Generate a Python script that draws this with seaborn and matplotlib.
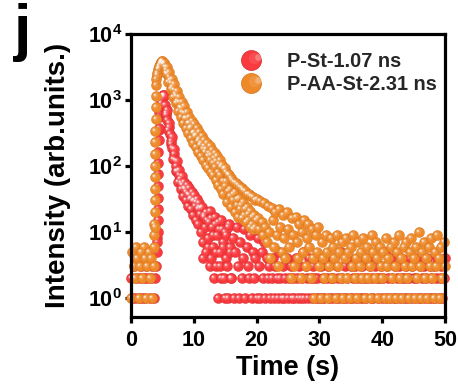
import numpy as np
import pandas as pd
import matplotlib
matplotlib.use("Agg")
import matplotlib.pyplot as plt
import seaborn as sns
from matplotlib.path import Path
from matplotlib.lines import Line2D
from matplotlib.legend_handler import HandlerTuple
from matplotlib.ticker import FixedLocator, FuncFormatter, NullLocator

# ---------------- data ----------------
series_names = ["P-St-1.07 ns", "P-AA-St-2.31 ns"]
time_step = 0.2  # channel spacing of the main grid (s), grid runs 0 .. 50

red_counts = [
    2, 1, 3, 1, 2, 4, 1, 2, 3, 1, 2, 1, 3, 2, 4, 1, 2, 3, 1, 2, 3,
    8, 350, 800, 1000, 1150, 1150, 850, 640, 500, 390, 310, 240, 190, 150, 125, 100, 85, 72, 64, 56,
    52, 46, 44, 40, 37, 36, 32, 33, 29, 30, 25, 28, 22, 24,
    19, 23, 4, 17, 12, 20, 6, 14, 3, 16, 9, 2, 13, 5, 1, 11, 3, 15, 7, 2,
    10, 4, 1, 13, 6, 2, 8, 1, 5, 12, 3, 1, 7, 2, 4, 11, 1, 6, 3, 2,
    9, 1, 5, 2, 4, 1, 8, 3, 1, 5, 2, 7, 1, 4, 2, 3,
    1, 2, 4, 1, 3, 2, 1, 5, 2, 1,
    3, 1, 2, 4, 1, 2, 3, 1, 2, 1,
    4, 2, 1, 3, 1, 2, 5, 1, 3, 2,
    1, 4, 2, 1, 3, 2, 1, 2, 4, 1,
    3, 1, 2, 1, 4, 2, 3, 1, 2, 1,
    2, 4, 1, 3, 2, 1, 5, 2, 1, 3,
    1, 2, 4, 1, 3, 1, 2, 3, 1, 2,
    4, 1, 2, 3, 1, 2, 1, 4, 2, 3,
    1, 2, 1, 3, 4, 2, 1, 2, 3, 1,
    2, 5, 1, 3, 2, 1, 4, 2, 1, 3,
    1, 2, 3, 1, 4, 2, 1, 2, 3, 1,
    2, 4, 1, 3, 2, 1, 2, 4, 1, 3,
    1, 2, 3, 1, 2, 4, 1, 3, 2, 1,
    3, 1, 2, 4, 1, 2, 3, 1, 2, 4,
]

orange_counts = [
    1, 5, 3, 2, 6, 4, 1, 3, 5, 2, 6, 4, 1, 3, 5, 2, 4, 1, 3,
    12, 2100, 2600, 3100, 3500, 3800, 3950,
    3600, 3150, 2850, 2480, 2260, 1980, 1800, 1560, 1430, 1240,
    1140, 980, 920, 790, 760, 660, 640, 540, 530, 450,
    450, 380, 390, 320, 330, 280, 290, 240, 255, 210,
    225, 180, 200, 160, 178, 140, 158, 125, 145, 110,
    132, 95, 120, 82, 108, 72, 98, 60, 90,
    50, 82, 42, 72, 35, 65, 30, 58, 40, 26,
    52, 33, 22, 46, 28, 18, 41, 24, 15, 37,
    21, 13, 34, 18, 12, 31, 16, 11, 29, 14,
    9, 27, 12, 7, 25, 10, 4, 23, 15, 6,
    20, 9, 3, 22, 12, 5, 18, 8, 4, 20,
    11, 6, 2, 16, 9, 3, 17, 7, 4, 13,
    2, 10, 5, 15, 3, 8, 13, 6, 2, 11,
    4, 1, 9, 5, 12,
    3, 1, 7, 4, 2, 9, 5, 1, 3, 8,
    2, 6, 4, 1, 9, 3, 5, 2, 7, 1,
    4, 8, 2, 5, 1, 6, 3, 9, 2, 4,
    1, 7, 3, 5, 2, 8, 1, 4, 6, 2,
    3, 1, 9, 5, 2, 7, 4, 1, 6, 3,
    2, 5, 1, 8, 3, 4, 1, 6, 2, 7,
    3, 1, 5, 9, 2, 4, 1, 6, 3, 7,
    2, 1, 5, 8, 3, 4, 1, 6, 2, 10,
    3, 1, 5, 7, 2, 4, 1, 6, 3, 8,
    2, 1, 5, 3, 9, 4, 1, 6, 2, 7,
    3,
]

# in-between channels of the decay (start time, then every 0.2 s)
red_mid_start = 5.3
red_mid = [
    1200, 600, 710, 350, 440, 215, 275, 128, 178, 84,
    120, 58, 88, 45, 70, 35, 58, 30, 51, 25,
    46, 22, 40, 18, 36, 15, 31, 13, 27, 10,
    24, 7, 18, 5, 15, 8, 21, 4, 12, 6,
    17, 3, 9, 14, 5, 2, 11, 6, 1, 9,
    3, 12, 5, 2,
]
orange_mid_start = 5.1
orange_mid = [
    3500, 3600, 2550, 3200, 1900, 2650, 1470, 2100, 1120, 1730,
    890, 1380, 680, 1110, 560, 920, 455, 800, 375, 660,
    315, 560, 262, 480, 222, 427, 194, 372, 164, 325,
    141, 283, 124, 250, 105, 224, 93, 199, 80, 176,
    72, 158, 62, 141, 52, 122, 44, 104, 38, 92,
    60, 28, 75, 45, 24, 62, 38, 20, 55, 31,
    17, 48, 26, 16, 43, 22, 14, 38, 19, 12,
    35, 17, 11, 30, 15,
]

# extra, finely spaced channels on the rising edges
red_rise_t = [4.18, 4.20, 4.22, 4.24, 4.26, 4.28, 4.30, 4.32, 4.34, 4.36, 4.38, 4.40, 4.42,
              4.50, 4.70, 4.90, 5.10]
red_rise = [5, 7, 10, 15, 22, 33, 50, 75, 110, 165, 250, 370, 550,
            650, 900, 1100, 1200]
orange_rise_t = [3.70, 3.72, 3.74, 3.76, 3.78, 3.80, 3.82, 3.84, 3.86, 3.88, 3.90, 3.92, 3.94,
                 3.96, 3.98, 4.10, 4.30, 4.50, 4.70, 4.90]
orange_rise = [6, 9, 13, 20, 30, 45, 68, 100, 150, 230, 340, 510, 770,
               1150, 1700, 2400, 2900, 3300, 3700, 3950]

x_ticks = [0, 10, 20, 30, 40, 50]
y_ticks = [1, 10, 100, 1000, 10000]

# ---------------- style ----------------
sns.set_theme(style="ticks")
plt.rcParams["font.family"] = ["Liberation Sans", "DejaVu Sans"]
plt.rcParams["font.weight"] = "bold"
plt.rcParams["mathtext.fontset"] = "custom"
plt.rcParams["mathtext.rm"] = "Liberation Sans:bold"
plt.rcParams["mathtext.bf"] = "Liberation Sans:bold"
plt.rcParams["mathtext.it"] = "Liberation Sans:bold"
plt.rcParams["mathtext.default"] = "bf"

colors = ["#F93A3E", "#EF8A2A"]
dark = ["#D22A2E", "#D2731E"]


def spot(cx, cy, r):
    c = Path.circle(center=(cx, cy), radius=r)
    verts = np.concatenate([c.vertices, [[0.5, 0.5], [-0.5, -0.5]]])
    codes = np.concatenate([c.codes, [Path.MOVETO, Path.MOVETO]])
    return Path(verts, codes)


highlights = [(spot(-0.10, 0.10, 0.28), 0.10),
              (spot(-0.15, 0.15, 0.17), 0.25),
              (spot(-0.17, 0.17, 0.09), 0.78)]


def series_times(n, start, step):
    return np.round(start + step * np.arange(n), 2)


fig = plt.figure(figsize=(4.58, 3.89), dpi=100)
ax = fig.add_axes([131 / 458, 1 - 317 / 389, (445 - 131) / 458, (317 - 34) / 389])

datasets = [
    (np.concatenate([series_times(len(red_counts), 0.0, time_step),
                     series_times(len(red_mid), red_mid_start, time_step), red_rise_t]),
     np.concatenate([red_counts, red_mid, red_rise])),
    (np.concatenate([series_times(len(orange_counts), 0.0, time_step),
                     series_times(len(orange_mid), orange_mid_start, time_step), orange_rise_t]),
     np.concatenate([orange_counts, orange_mid, orange_rise])),
]

msize = 52
for k, (t, c) in enumerate(datasets):
    d = pd.DataFrame({"Time": t, "Intensity": c}).sort_values("Time", kind="stable")
    z = 2 + 4 * k
    sns.scatterplot(data=d, x="Time", y="Intensity", ax=ax, color=colors[k], s=msize,
                    marker="o", edgecolor=dark[k], linewidth=0.3, clip_on=False,
                    zorder=z, legend=False)
    for j, (p, a) in enumerate(highlights):
        ax.scatter(d["Time"], d["Intensity"], s=msize, marker=p, color="white",
                   alpha=a, linewidths=0, clip_on=False, zorder=z + 1 + j)

ax.set_yscale("log")
ax.set_xlim(0, 50)
ax.set_ylim(10 ** -0.29, 1e4)
ax.yaxis.set_major_locator(FixedLocator(y_ticks))
ax.yaxis.set_minor_locator(NullLocator())
ax.yaxis.set_major_formatter(FuncFormatter(lambda v, p: r"$\mathbf{10^{%d}}$" % round(np.log10(v))))
ax.xaxis.set_major_locator(FixedLocator(x_ticks))
ax.xaxis.set_minor_locator(NullLocator())

for sp in ax.spines.values():
    sp.set_linewidth(2.3)
    sp.set_color("black")
    sp.set_zorder(20)
ax.tick_params(axis="both", which="major", width=2.3, length=4.5, color="black",
               labelsize=15.5, labelcolor="black")
ax.tick_params(axis="x", pad=5)
ax.tick_params(axis="y", pad=2)

ax.set_xlabel("Time (s)", fontsize=19.5, fontweight="bold", color="black")
ax.set_ylabel("Intensity (arb.units.)", fontsize=20, fontweight="bold", color="black")
ax.xaxis.set_label_coords(0.5, -0.135)
ax.yaxis.set_label_coords(-0.19, 0.5)

handles = []
for k in range(2):
    parts = [Line2D([], [], linestyle="none", marker="o", markersize=14.4,
                    markerfacecolor=colors[k], markeredgecolor=dark[k], markeredgewidth=0.5)]
    for p, a in highlights:
        parts.append(Line2D([], [], linestyle="none", marker=p, markersize=14.4,
                            markerfacecolor="white", markeredgewidth=0, alpha=a))
    handles.append(tuple(parts))
ax.legend(handles, series_names, handler_map={tuple: HandlerTuple(ndivide=None)},
          loc="upper left", bbox_to_anchor=(0.373, 0.937), frameon=False, borderpad=0,
          borderaxespad=0, handlelength=1.0, handletextpad=0.95, labelspacing=0.22,
          prop={"weight": "bold", "size": 14.4})

fig.text(14 / 458, 1 - 49 / 389, "j", fontsize=45, fontweight="bold", ha="left",
         va="baseline", color="black")

fig.savefig("out.png", dpi=100)
